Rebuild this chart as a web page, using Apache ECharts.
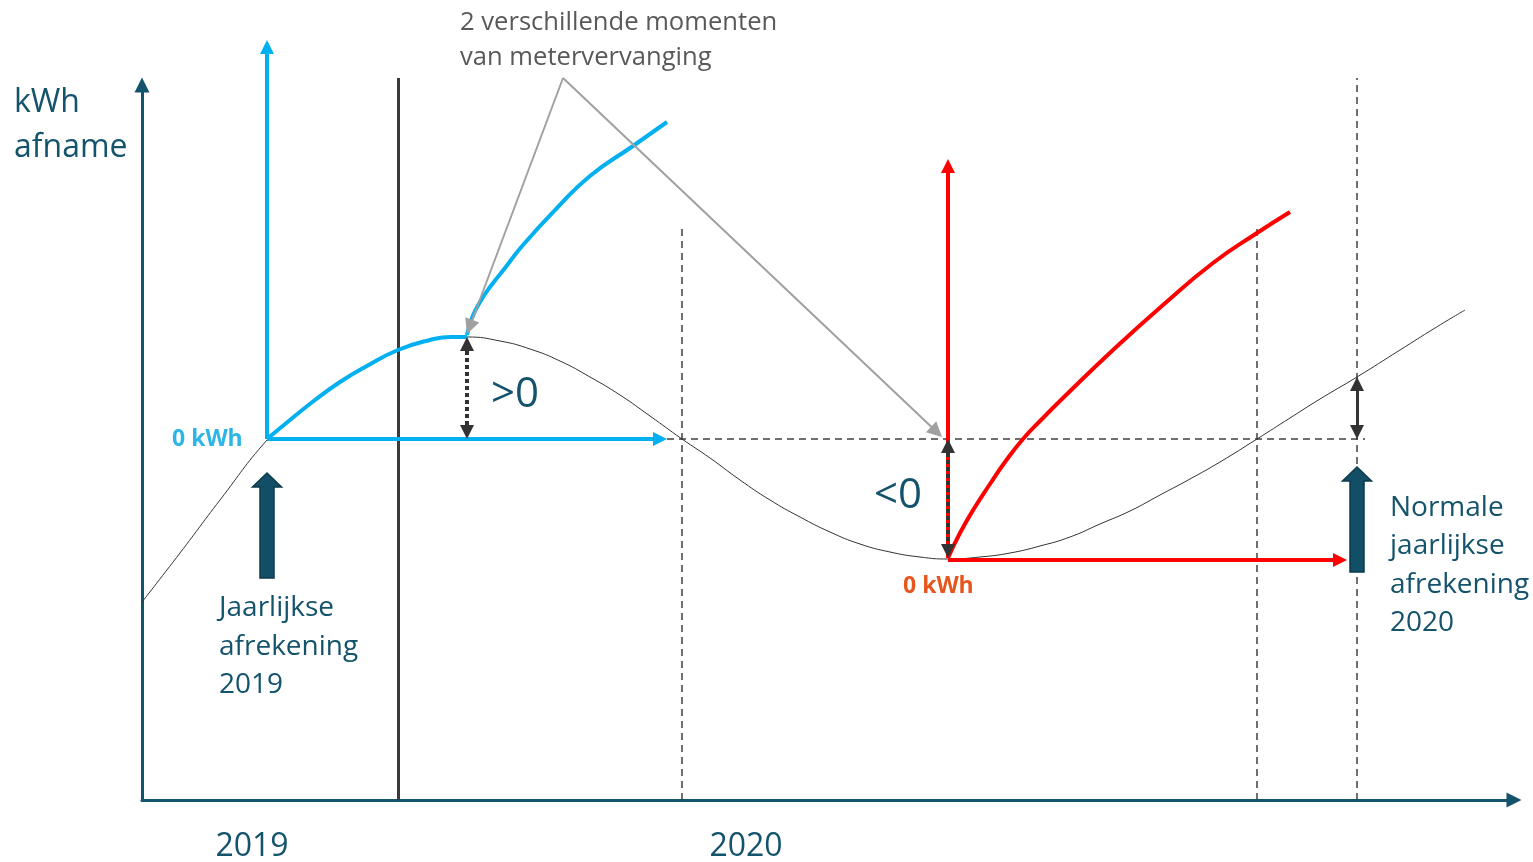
<!DOCTYPE html>
<html>
<head>
<meta charset="utf-8">
<script src="https://cdn.jsdelivr.net/npm/echarts@6/dist/echarts.min.js"></script>
<style>
html, body { margin: 0; padding: 0; background: #fff; }
#main { width: 1533px; height: 862px; }
</style>
</head>
<body>
<div id="main"></div>
<script>
// tijd (x) en meterstand kWh (y)
var curve = [[0,198],[38,247],[78,300],[125,360],[148,380],[173,400],[198,418],[223,433],[256,450],[288,460],[325,463],
  [358,459],[388,451],[418,439],[448,423],[478,405],[508,384],[540,361],
  [568,342],[598,320],[628,300],[658,283],[688,268],[718,256],[748,248],[778,243],[806,241],
  [838,243],[868,247],[898,254],[928,263],[958,276],[988,289],[1018,305],[1048,321],[1078,338],[1115,361],
  [1148,382],[1178,401],[1215,423],[1258,450],[1293,472],[1323,490]];
var blueBefore = [[125,361],[148,380],[173,400],[198,418],[223,433],[256,450],[288,460],[309,463],[325,463]];
var blueAfter = [[325,465],[330,482],[338,498],[348,513],[363,532],[381,555],[415,592],[448,624],[491,654],[525,678]];
var redAfter = [[806,242],[818,267],[833,293],[848,316],[863,338],[881,361],[900,381],[921,402],[971,450],
  [1021,495],[1071,537],[1115,567],[1148,588]];

var yearPos = [110, 604];
var yearLabels = ['2019', '2020'];

// pijlen: [van, punt]
var blueArrows = [[[125,361],[125,760]], [[125,361],[525,361]]];
var redArrows = [[[806,242],[806,641]], [[806,240],[1205,240]]];
var grayArrows = [[[421,722],[325,466]], [[421,722],[800,363]]];
var dottedDouble = [[[325,463],[325,361]], [[806,361],[806,242]]];
var solidDouble = [[[1215,423],[1215,361]]];
var dashedLines = [[[540,0],[540,575]], [[1115,0],[1115,575]], [[1215,0],[1215,722]], [[525,361],[1223,361]]];
var solidLines = [[[256,0],[256,722]]];
// blokpijl: x, onderkant, punt
var blockArrows = [[125,222,327],[1215,228,333]];

var teal = '#14536c';
var font = '"Open Sans", "Noto Sans", sans-serif';

// symbool staat gecentreerd op het eindpunt, dus lijn een halve pijl inkorten
function pull(a, b, d) {
  var dx = b[0] - a[0], dy = b[1] - a[1];
  var len = Math.sqrt(dx * dx + dy * dy);
  return [b[0] - dx / len * d, b[1] - dy / len * d];
}
function arrowData(list, size, both) {
  return list.map(function (l) {
    var end = pull(l[0], l[1], size / 2);
    var start = both ? pull(l[1], l[0], size / 2) : l[0];
    return { coords: [start, end] };
  });
}
function linesSeries(data, color, width, type, sym, size, z) {
  return {
    type: 'lines', coordinateSystem: 'cartesian2d', clip: false, z: z,
    symbol: sym, symbolSize: size,
    lineStyle: { color: color, width: width, type: type, opacity: 1 },
    data: data, silent: true
  };
}
function curveSeries(data, color, width, z) {
  return {
    type: 'line', data: data, smooth: 0.5, showSymbol: false, clip: false, z: z,
    lineStyle: { color: color, width: width }, silent: true
  };
}

var myChart = echarts.init(document.getElementById('main'));
var option = {
  animation: false,
  grid: { left: 142, right: 19, top: 85, bottom: 62, containLabel: false, outerBoundsMode: 'none' },
  xAxis: {
    type: 'value', min: 0, max: 1372,
    axisLine: { show: true, symbol: ['none', 'triangle'], symbolSize: [15, 15], lineStyle: { color: teal, width: 3 } },
    axisTick: { show: false },
    splitLine: { show: false },
    axisLabel: {
      customValues: yearPos,
      formatter: function (v) { return yearLabels[yearPos.indexOf(v)]; },
      margin: 31, fontSize: 32, color: teal, fontFamily: font
    }
  },
  yAxis: {
    type: 'value', min: 0, max: 715,
    axisLine: { show: true, symbol: ['none', 'triangle'], symbolSize: [15, 15], lineStyle: { color: teal, width: 3 } },
    axisTick: { show: false },
    splitLine: { show: false },
    axisLabel: { show: false }
  },
  series: [
    linesSeries(dashedLines.map(function (l) { return { coords: l }; }), '#404040', 1.5, [7, 5], 'none', 0, 1),
    linesSeries(solidLines.map(function (l) { return { coords: l }; }), '#3a3a3a', 3, 'solid', 'none', 0, 1),
    curveSeries(curve, '#333333', 1, 2),
    curveSeries(blueBefore, '#00b0f0', 4, 3),
    curveSeries(blueAfter, '#00b0f0', 4, 3),
    curveSeries(redAfter, '#ff0000', 4, 3),
    linesSeries(arrowData(blueArrows, 14), '#00b0f0', 4, 'solid', ['none', 'triangle'], 14, 4),
    linesSeries(arrowData(redArrows, 14), '#ff0000', 4, 'solid', ['none', 'triangle'], 14, 4),
    linesSeries(arrowData(grayArrows, 15), '#a0a0a0', 2, 'solid', ['none', 'triangle'], 15, 5),
    linesSeries(arrowData(dottedDouble, 14, true), '#333333', 4, [4, 3], ['triangle', 'triangle'], 14, 6),
    linesSeries(arrowData(solidDouble, 14, true), '#333333', 3, 'solid', ['triangle', 'triangle'], 14, 6),
    {
      type: 'custom', data: blockArrows, z: 6, clip: false, silent: true,
      encode: { x: 0, y: [1, 2] },
      renderItem: function (params, api) {
        var b = api.coord([api.value(0), api.value(1)]);
        var t = api.coord([api.value(0), api.value(2)]);
        var sw = 7, hw = 14.5, hl = 14;
        return {
          type: 'polygon',
          shape: { points: [[b[0] - sw, b[1]], [b[0] - sw, t[1] + hl], [b[0] - hw, t[1] + hl], [t[0], t[1]],
            [b[0] + hw, t[1] + hl], [b[0] + sw, t[1] + hl], [b[0] + sw, b[1]]] },
          style: { fill: '#124f66', stroke: '#0b3a4c', lineWidth: 1.5 }
        };
      }
    }
  ],
  graphic: [
    { type: 'text', left: 14, top: 80, style: { text: 'kWh\nafname', font: '32px ' + font, fill: teal, lineHeight: 45 } },
    { type: 'text', left: 460, top: 5, style: { text: '2 verschillende momenten\nvan metervervanging', font: '25.6px ' + font, fill: '#595959', lineHeight: 35 } },
    { type: 'text', left: 172, top: 428, style: { text: '0 kWh', font: 'bold 23px ' + font, fill: '#2cb5e6' } },
    { type: 'text', left: 903, top: 575, style: { text: '0 kWh', font: 'bold 23px ' + font, fill: '#e8561f' } },
    { type: 'text', left: 491, top: 374, style: { text: '>0', font: '42px ' + font, fill: teal } },
    { type: 'text', left: 874, top: 475, style: { text: '<0', font: '42px ' + font, fill: teal } },
    { type: 'text', left: 219, top: 589, style: { text: 'Jaarlijkse\nafrekening\n2019', font: '28px ' + font, fill: teal, lineHeight: 38.5 } },
    { type: 'text', left: 1390, top: 489, style: { text: 'Normale\njaarlijkse\nafrekening\n2020', font: '28px ' + font, fill: teal, lineHeight: 38.3 } }
  ]
};
myChart.setOption(option);
</script>
</body>
</html>
